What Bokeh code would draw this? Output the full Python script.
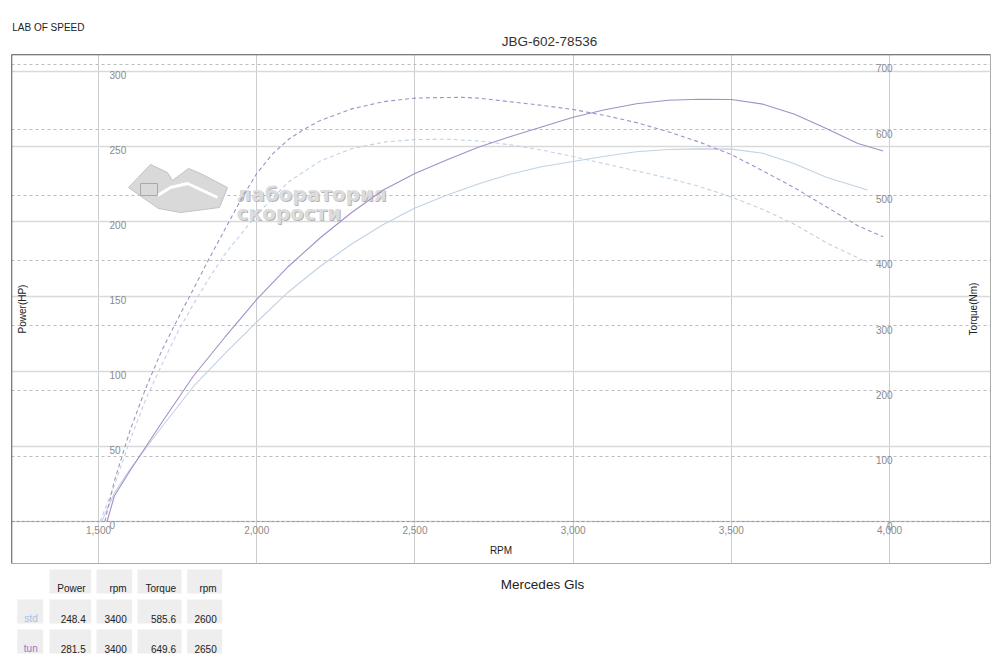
import math
from bokeh.plotting import figure
from bokeh.models import Range1d, FixedTicker, Grid, Span
from bokeh.layouts import column
from bokeh.embed import file_html
from bokeh.resources import INLINE
from bokeh.core.properties import value

# ---------------- data ----------------
BRAND = "LAB OF SPEED"
TITLE = "JBG-602-78536"
CAR = "Mercedes Gls"
X_LABEL = "RPM"
Y_LABEL = "Power(HP)"
Y2_LABEL = "Torque(Nm)"

X_TICKS = [1500, 2000, 2500, 3000, 3500, 4000]
POWER_TICKS = [0, 50, 100, 150, 200, 250, 300]
TORQUE_TICKS = [0, 100, 200, 300, 400, 500, 600, 700]

RPM_TUN_P = [1527, 1550, 1600, 1650, 1700, 1800, 1900, 2000, 2100, 2200, 2300, 2400, 2500, 2600,
             2700, 2800, 2900, 3000, 3100, 3200, 3300, 3400, 3500, 3600, 3700, 3800, 3900, 3980]
POWER_TUN = [0, 17, 34, 50, 66, 97, 123, 148, 170, 189, 206, 221, 232, 241,
             249.5, 256.5, 263, 269.5, 274.5, 278.5, 280.8, 281.5, 281.3, 278.2, 271.5, 262, 252, 247]

RPM_STD_P = [1510, 1550, 1600, 1650, 1700, 1800, 1900, 2000, 2100, 2200, 2300, 2400, 2500, 2600,
             2700, 2800, 2900, 3000, 3100, 3200, 3300, 3400, 3500, 3600, 3700, 3800, 3930]
POWER_STD = [0, 19, 35, 49, 63, 90, 112, 133, 153, 170, 185, 198, 209, 217.5,
             225, 231.5, 236.5, 240, 243.5, 246.5, 248, 248.4, 248.2, 245.5, 238.5, 229.5, 221]

RPM_TUN_T = [1520, 1550, 1600, 1650, 1700, 1750, 1800, 1850, 1900, 1950, 2000, 2050, 2100, 2150,
             2200, 2300, 2400, 2500, 2600, 2650, 2700, 2800, 2900, 3000, 3100, 3200, 3300, 3400,
             3500, 3600, 3700, 3800, 3900, 3980]
TORQUE_TUN = [0, 62, 140, 205, 262, 310, 356, 403, 448, 493, 533, 563, 585, 601,
              614, 632, 643, 648.5, 649.5, 649.6, 648.5, 643, 637.5, 631, 622, 611, 597, 581,
              562, 537, 511, 482, 453, 436]

RPM_STD_T = [1505, 1550, 1600, 1650, 1700, 1750, 1800, 1850, 1900, 2000, 2100, 2200, 2300, 2400, 2500,
             2600, 2700, 2800, 2900, 3000, 3100, 3200, 3300, 3400, 3500, 3600, 3700, 3800, 3930]
TORQUE_STD = [0, 55, 125, 188, 240, 290, 333, 373, 410, 470, 520, 552, 571, 581, 585,
              585.6, 583, 577, 569, 559, 548, 537, 526, 513, 497, 478, 455, 427, 397]

TABLE_HEADERS = ["Power", "rpm", "Torque", "rpm"]
ROW_NAMES = ["std", "tun"]
STD_ROW = ["248.4", "3400", "585.6", "2600"]
TUN_ROW = ["281.5", "3400", "649.6", "2650"]

LOGO_TEXT = ["лаборатория", "скорости"]

# ---------------- styles ----------------
TUN_COLOR = "#a290c8"
STD_COLOR = "#c0d2e4"
TUN_LABEL_COLOR = "#9a77c0"
STD_LABEL_COLOR = "#a9c1de"
FONT = value("Liberation Sans")
TICK_COLOR = "#8a8a8a"

W = 992
BL, BR = 11, 2          # frame borders shared by all stacked figures
FX0, FX1 = 11, 990      # page-x span of the frames
X0, X1 = 1225.0, 4319.0
P0, P1 = -28.0, 311.3
T0, T1 = -64.3, 715.3

# ---------------- header (page pixel coords) ----------------
top = figure(width=W, height=52, x_range=Range1d(FX0, FX1), y_range=Range1d(52, 0),
             x_axis_type=None, y_axis_type=None, toolbar_location=None, output_backend="svg",
             min_border_left=BL, min_border_right=BR, min_border_top=0, min_border_bottom=0,
             outline_line_color=None, title=None)
top.text(x=[11.7], y=[27], text=[BRAND], text_font=FONT, text_font_size="10px",
         text_color="#222222", text_align="left", text_baseline="alphabetic")
top.text(x=[549], y=[40.7], text=[TITLE], text_font=FONT, text_font_size="13.5px",
         text_color="#333333", text_align="center", text_baseline="alphabetic")

# ---------------- main chart ----------------
p = figure(width=W, height=515, x_range=Range1d(X0, X1), y_range=Range1d(P0, P1),
           x_axis_type=None, y_axis_type=None, toolbar_location=None, output_backend="svg",
           min_border_left=BL, min_border_right=BR, min_border_top=2, min_border_bottom=4,
           outline_line_color="#ababab", outline_line_width=1, title=None)
p.extra_y_ranges = {"torque": Range1d(T0, T1)}

p.add_layout(Grid(dimension=0, ticker=FixedTicker(ticks=X_TICKS),
                  grid_line_color="#cccccc", grid_line_width=1))
p.add_layout(Grid(dimension=1, ticker=FixedTicker(ticks=POWER_TICKS),
                  grid_line_color="#d9d9d9", grid_line_width=1.5))
p.add_layout(Grid(dimension=1, y_range_name="torque", ticker=FixedTicker(ticks=TORQUE_TICKS),
                  grid_line_color="#bdbdbd", grid_line_width=1, grid_line_dash="3 3"))
p.add_layout(Span(location=0, dimension="width", line_color="#9a9a9a", line_width=1, line_dash="3 2"))
p.add_layout(Span(location=P1, dimension="width", line_color="#505050", line_width=1.5))
p.add_layout(Span(location=X0, dimension="height", line_color="#505050", line_width=1.5))


def px(xp, yp):
    """page pixel -> data coords (for the watermark only)"""
    return (X0 + (xp - 11) / 979.0 * (X1 - X0), P1 - (yp - 54) / 509.0 * (P1 - P0))


# watermark logo
LOGO_SHAPE_PX = [(128, 187), (150, 164), (167, 172), (172, 180), (188, 168), (200, 173),
                 (227, 187), (219, 207), (180, 212), (158, 208)]
LOGO_SWOOSH_PX = [(157, 195), (170, 187), (187, 183), (200, 189), (217, 197)]
LOGO_ICON_PX = [(140, 183), (157, 183), (157, 195), (140, 195)]
sx, sy = zip(*[px(a, b) for a, b in LOGO_SHAPE_PX])
p.patch(list(sx), list(sy), fill_color="#d9d9d9", line_color="#c2c2c2", line_width=1)
wx, wy = zip(*[px(a, b) for a, b in LOGO_SWOOSH_PX])
p.line(list(wx), list(wy), line_color="white", line_width=3)
ix, iy = zip(*[px(a, b) for a, b in LOGO_ICON_PX])
p.patch(list(ix), list(iy), fill_color=None, line_color="#a8a8a8", line_width=1)
lx, ly1 = px(236, 193)
_, ly2 = px(236, 212)
LOGO_FONT = value("DejaVu Sans")
p.text(x=[lx, lx], y=[ly1, ly2], text=LOGO_TEXT, x_offset=1, y_offset=1,
       text_font=LOGO_FONT, text_font_style="bold",
       text_font_size="20px", text_color="#b4b4b4", text_align="left", text_baseline="alphabetic")
p.text(x=[lx, lx], y=[ly1, ly2], text=LOGO_TEXT,
       text_font=LOGO_FONT, text_font_style="bold",
       text_font_size="20px", text_color="#dcdcdc", text_align="left", text_baseline="alphabetic")

# curves
p.line(RPM_STD_P, POWER_STD, line_color=STD_COLOR, line_width=1.1)
p.line(RPM_STD_T, TORQUE_STD, y_range_name="torque", line_color=STD_COLOR, line_width=1.1, line_dash="4 3")
p.line(RPM_TUN_P, POWER_TUN, line_color=TUN_COLOR, line_width=1.1)
p.line(RPM_TUN_T, TORQUE_TUN, y_range_name="torque", line_color=TUN_COLOR, line_width=1.1, line_dash="4 3")

# tick labels
p.text(x=[X_TICKS[0]] * len(POWER_TICKS), y=POWER_TICKS, text=[str(v) for v in POWER_TICKS],
       x_offset=11, y_offset=4, text_font=FONT, text_font_size="10px", text_color=TICK_COLOR,
       text_align="left", text_baseline="alphabetic")
p.text(x=[X_TICKS[-1]] * len(TORQUE_TICKS), y=TORQUE_TICKS, text=[str(v) for v in TORQUE_TICKS],
       y_range_name="torque", x_offset=3, y_offset=4, text_font=FONT, text_font_size="10px",
       text_color=TICK_COLOR, text_align="right", text_baseline="alphabetic")
p.text(x=X_TICKS, y=[0] * len(X_TICKS), text=[f"{v:,}" for v in X_TICKS],
       y_offset=9, text_font=FONT, text_font_size="10px", text_color=TICK_COLOR,
       text_align="center", text_baseline="alphabetic")

# axis titles
p.text(x=[X0], y=[(P0 + P1) / 2], text=[Y_LABEL], angle=math.pi / 2, x_offset=10.5,
       text_font=FONT, text_font_size="10px", text_color="#222222",
       text_align="center", text_baseline="middle")
p.text(x=[X1], y=[(P0 + P1) / 2], text=[Y2_LABEL], angle=math.pi / 2, x_offset=-17,
       text_font=FONT, text_font_size="10px", text_color="#222222",
       text_align="center", text_baseline="middle")
p.text(x=[(X0 + X1) / 2], y=[P0], text=[X_LABEL], y_offset=-13,
       text_font=FONT, text_font_size="10px", text_color="#222222",
       text_align="center", text_baseline="alphabetic")

# ---------------- bottom: table + car name (page x, y - 567) ----------------
bot = figure(width=W, height=87, x_range=Range1d(FX0, FX1), y_range=Range1d(87, 0),
             x_axis_type=None, y_axis_type=None, toolbar_location=None, output_backend="svg",
             min_border_left=BL, min_border_right=BR, min_border_top=0, min_border_bottom=0,
             outline_line_color=None, title=None)
bot.text(x=[542], y=[16.5], text=[CAR], text_font=FONT, text_font_size="13.5px",
         text_color="#222222", text_align="center", text_baseline="alphabetic")

COL_L = [49, 96, 137, 186.7]
COL_R = [90.7, 131.7, 181, 221.7]
NAME_L, NAME_R = 16.7, 42.7
ROW_T = [2, 32, 62]
ROW_B = [26, 56, 86]
CELL_FILL = "#eeeeee"

bot.quad(left=COL_L, right=COL_R, top=[ROW_T[0]] * 4, bottom=[ROW_B[0]] * 4,
         fill_color=CELL_FILL, line_color=None)
bot.text(x=[r - 5.5 for r in COL_R], y=[ROW_B[0] - 5] * 4, text=TABLE_HEADERS,
         text_font=FONT, text_font_size="10px", text_color="#222222",
         text_align="right", text_baseline="alphabetic")
rows = [STD_ROW, TUN_ROW]
name_colors = [STD_LABEL_COLOR, TUN_LABEL_COLOR]
for i, (name, vals) in enumerate(zip(ROW_NAMES, rows)):
    t, b = ROW_T[i + 1], ROW_B[i + 1]
    bot.quad(left=[NAME_L] + COL_L, right=[NAME_R] + COL_R, top=[t] * 5, bottom=[b] * 5,
             fill_color=CELL_FILL, line_color=None)
    bot.text(x=[NAME_R - 5.5], y=[b - 5], text=[name], text_font=FONT, text_font_size="10px",
             text_color=name_colors[i], text_align="right", text_baseline="alphabetic")
    bot.text(x=[r - 5.5 for r in COL_R], y=[b - 5] * 4, text=vals,
             text_font=FONT, text_font_size="10px", text_color="#222222",
             text_align="right", text_baseline="alphabetic")

layout = column(top, p, bot)
open("out.html", "w").write(file_html(layout, INLINE))
